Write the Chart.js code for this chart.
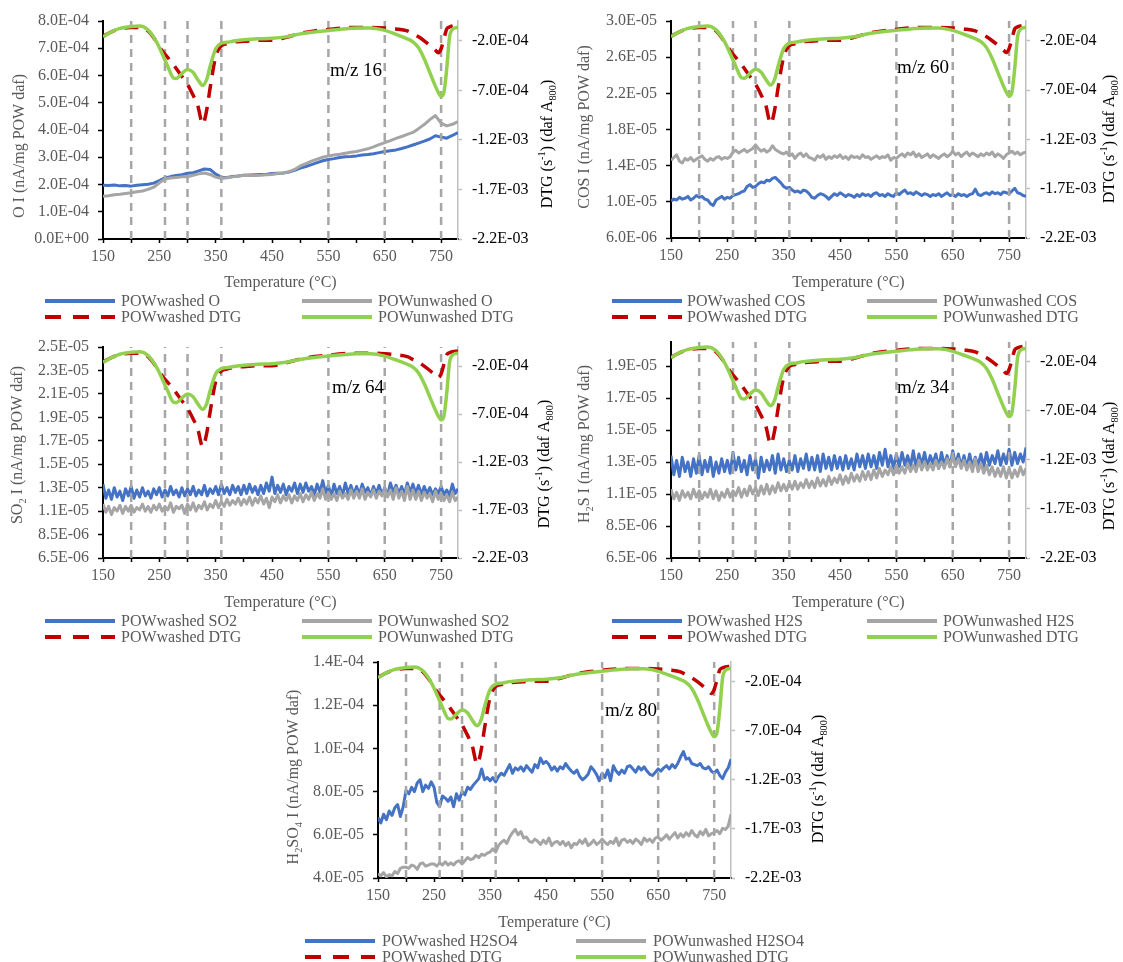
<!DOCTYPE html>
<html>
<head>
<meta charset="utf-8">
<script src="https://cdn.jsdelivr.net/npm/chart.js@4.4.1/dist/chart.umd.min.js"></script>
<style>
html,body{margin:0;padding:0;background:#fff;}
body{width:1123px;height:962px;position:relative;overflow:hidden;font-family:'Liberation Serif','Times New Roman',serif;}
.panel{position:absolute;}
.lg{position:absolute;height:20px;line-height:20px;font-size:16px;color:#595959;white-space:nowrap;}
.lgline{position:absolute;}
</style>
</head>
<body>
<canvas id="c1" class="panel" width="560" height="295" style="left:0;top:0"></canvas>
<canvas id="c2" class="panel" width="563" height="295" style="left:560px;top:0"></canvas>
<canvas id="c3" class="panel" width="560" height="295" style="left:0;top:320px"></canvas>
<canvas id="c4" class="panel" width="563" height="295" style="left:560px;top:320px"></canvas>
<canvas id="c5" class="panel" width="560" height="295" style="left:280px;top:640px"></canvas>
<div id="legends"></div>
<script>
// ---------------- DATA ----------------
// temperature grids (°C)
const temps10 = [150,160,170,180,190,200,210,220,230,240,250,260,270,280,290,300,310,320,330,340,
  350,360,370,380,390,400,410,420,430,440,450,460,470,480,490,500,510,520,530,540,
  550,560,570,580,590,600,610,620,630,640,650,660,670,680,690,700,710,720,730,740,
  750,760,770,780];
const temps5 = [
  150,155,160,165,170,175,180,185,190,195,
  200,205,210,215,220,225,230,235,240,245,
  250,255,260,265,270,275,280,285,290,295,
  300,305,310,315,320,325,330,335,340,345,
  350,355,360,365,370,375,380,385,390,395,
  400,405,410,415,420,425,430,435,440,445,
  450,455,460,465,470,475,480,485,490,495,
  500,505,510,515,520,525,530,535,540,545,
  550,555,560,565,570,575,580,585,590,595,
  600,605,610,615,620,625,630,635,640,645,
  650,655,660,665,670,675,680,685,690,695,
  700,705,710,715,720,725,730,735,740,745,
  750,755,760,765,770,775,780];
const dtgTemps = [150,165,180,200,215,230,245,255,265,275,
  280,290,300,310,318,327,334,340,350,360,
  370,385,400,425,450,475,500,525,550,575,
  600,625,650,670,690,700,710,720,730,740,
  745,750,755,760,765,770,775,780];

// DTG (units of 1E-04 s^-1)
const dtgWashed = [-1.55,-1.1,-0.8,-0.65,-0.65,-1.0,-2.1,-3.0,-3.7,-4.4,
  -4.8,-5.6,-6.4,-7.5,-8.5,-10.4,-9.0,-6.8,-3.6,-2.5,
  -2.3,-2.1,-2.05,-1.95,-1.95,-1.65,-1.25,-1.0,-0.85,-0.7,
  -0.65,-0.65,-0.7,-0.8,-1.0,-1.3,-1.6,-2.0,-2.45,-2.95,
  -3.2,-2.8,-1.8,-0.8,-0.6,-0.5,-0.45,-0.45];
const dtgUnwashed = [-1.6,-1.1,-0.75,-0.55,-0.5,-0.9,-2.1,-3.3,-4.6,-5.75,
  -5.8,-5.3,-4.9,-5.2,-5.9,-6.5,-5.9,-4.6,-2.8,-2.25,
  -2.15,-2.0,-1.9,-1.8,-1.75,-1.6,-1.3,-1.1,-0.95,-0.8,
  -0.7,-0.7,-0.95,-1.35,-1.8,-2.1,-2.7,-3.8,-5.2,-6.6,
  -7.2,-7.6,-7.2,-4.8,-1.6,-0.85,-0.7,-0.65];

// m/z 16 O (units of 1E-04)
const oWashed = [1.97,1.96,1.98,1.95,1.96, 1.94,1.97,1.99,2.01,2.05,
  2.14,2.24,2.29,2.33,2.36, 2.41,2.43,2.50,2.57,2.55,
  2.38,2.27,2.26,2.29,2.31, 2.34,2.35,2.36,2.37,2.38,
  2.40,2.41,2.42,2.46,2.52, 2.60,2.66,2.73,2.80,2.87,
  2.92,2.95,2.99,3.02,3.03, 3.05,3.08,3.10,3.13,3.17,
  3.21,3.24,3.27,3.32,3.38, 3.45,3.52,3.59,3.67,3.79,
  3.74,3.70,3.80,3.91];
const oUnwashed = [1.57,1.59,1.62,1.64,1.67, 1.70,1.73,1.76,1.82,1.90,
  2.06,2.20,2.24,2.26,2.28, 2.28,2.34,2.39,2.42,2.37,
  2.27,2.22,2.25,2.28,2.31, 2.34,2.33,2.33,2.34,2.36,
  2.37,2.40,2.42,2.47,2.55, 2.68,2.77,2.86,2.93,3.00,
  3.05,3.08,3.11,3.15,3.18, 3.21,3.26,3.31,3.38,3.46,
  3.54,3.61,3.69,3.76,3.84, 3.91,4.05,4.20,4.38,4.53,
  4.25,4.15,4.21,4.31];

// m/z 60 COS (units of 1E-06)
const cosWashed = [
  10.1,10.3,10.2,10.5,10.3,10.4,10.6,10.2,10.4,10.7,
  10.5,10.6,10.3,10.2,9.8,9.6,10.2,10.4,10.6,10.3,
  10.5,10.4,10.7,10.8,10.9,11.1,11.2,11.7,11.9,11.6,
  11.7,12.0,12.2,12.1,12.4,12.3,12.6,12.7,12.4,12.1,
  11.7,11.5,11.6,11.3,11.1,11.2,11.0,11.3,11.2,10.9,
  10.5,10.4,10.7,10.9,10.8,10.6,10.3,10.6,10.9,10.7,
  11.0,10.8,10.6,10.8,10.7,10.5,10.8,10.6,10.9,10.7,
  10.8,10.6,10.9,11.0,10.7,10.8,10.6,10.9,10.7,10.6,
  11.0,10.8,11.1,11.3,10.9,11.0,10.8,11.1,10.9,10.7,
  10.9,10.8,10.6,10.8,10.7,10.9,10.6,10.8,11.0,10.7,
  10.8,10.6,10.9,10.7,10.8,10.6,10.8,10.9,11.4,10.8,
  10.7,10.9,11.0,10.8,11.1,10.9,11.0,10.8,11.1,11.0,
  10.9,11.2,11.5,11.0,10.9,10.7,10.6];
const cosUnwashed = [
  14.6,14.9,15.2,14.5,14.3,14.8,14.6,14.9,14.5,14.7,
  14.9,15.1,14.7,14.5,14.8,14.6,14.9,15.0,14.7,14.9,
  14.8,15.0,15.5,15.7,15.4,15.6,15.8,15.5,15.7,15.9,
  16.3,15.9,15.6,15.8,15.5,15.7,16.2,15.8,15.6,15.4,
  15.3,15.5,15.1,15.3,14.8,15.2,15.4,15.0,15.3,14.9,
  14.8,14.6,15.1,14.9,15.2,14.7,15.0,14.8,15.1,14.9,
  15.2,14.8,15.0,14.7,15.1,14.9,15.0,14.8,15.2,14.9,
  15.0,14.7,14.9,15.1,14.8,15.0,14.9,15.2,14.6,14.9,
  14.8,15.1,15.3,15.0,15.4,15.2,15.5,15.0,15.3,14.9,
  15.1,15.3,14.9,15.2,15.0,14.8,15.1,15.3,15.0,15.2,
  15.6,15.2,15.4,15.0,15.3,15.5,15.1,15.4,15.2,15.0,
  15.3,15.1,15.4,15.2,15.5,15.0,15.3,15.1,14.8,15.2,
  15.4,15.6,15.3,15.5,15.2,15.4,15.5];

// m/z 64 SO2 (units of 1E-06)
const so2Washed = [
  12.8,11.6,12.3,11.5,12.5,11.7,12.2,11.4,12.4,11.8,
  12.6,11.6,12.3,11.7,12.5,11.8,12.2,11.6,12.4,11.9,
  12.5,11.7,12.3,11.8,12.6,11.9,12.3,11.7,12.5,11.8,
  12.4,11.9,12.6,11.8,12.3,11.9,12.7,11.8,12.4,12.0,
  12.6,11.9,12.8,12.0,12.5,11.9,12.7,12.1,12.6,11.9,
  12.7,12.0,12.8,12.1,12.6,11.9,12.7,12.0,12.9,12.2,
  13.4,12.0,12.7,12.1,12.8,11.9,12.6,12.2,12.9,12.0,
  12.8,12.1,12.9,12.2,12.6,11.9,12.8,12.1,13.1,12.0,
  12.7,11.7,12.8,12.0,12.6,11.8,12.9,12.0,12.7,11.9,
  12.6,11.9,12.8,12.1,12.5,11.8,12.6,12.0,12.7,11.9,
  12.5,11.8,12.9,12.1,12.7,12.0,12.6,11.9,12.9,12.1,
  12.8,12.0,12.7,11.9,12.6,12.0,12.5,11.9,12.4,12.0,
  12.6,11.9,12.3,11.8,12.8,12.0,12.4];
const so2Unwashed = [
  11.1,10.4,10.9,10.2,10.8,10.5,11.0,10.3,10.9,10.5,
  11.0,10.4,10.8,10.6,11.1,10.5,10.9,10.4,11.0,10.6,
  11.1,10.5,10.9,10.6,11.2,10.4,10.9,10.7,11.0,10.3,
  11.1,10.6,11.2,10.5,11.0,10.7,11.3,10.6,11.1,10.8,
  11.4,10.8,11.3,10.9,11.5,11.0,11.4,11.1,11.6,11.0,
  11.5,11.1,11.7,11.0,11.6,11.2,11.8,11.1,11.6,10.8,
  11.7,11.3,11.9,11.2,11.8,11.4,11.9,11.2,11.8,11.4,
  12.0,11.3,11.9,11.5,12.1,11.4,12.0,11.6,12.4,11.5,
  12.1,11.5,12.0,11.4,12.2,11.6,12.0,11.5,12.3,11.6,
  12.2,11.6,12.4,11.5,12.1,11.7,12.3,11.6,12.2,11.8,
  12.4,11.7,12.3,11.5,12.5,11.6,12.2,11.4,12.6,11.5,
  12.3,11.5,12.2,11.4,12.1,11.6,12.0,11.3,12.2,11.5,
  12.0,11.4,11.9,11.3,12.1,11.4,11.7];

// m/z 34 H2S (units of 1E-06)
const h2sWashed = [
  12.9,11.7,12.6,11.6,12.8,11.9,12.5,11.6,12.7,11.8,
  12.9,11.7,12.6,11.9,12.8,11.6,12.5,11.8,12.7,11.9,
  12.6,11.8,13.1,12.0,12.8,11.9,12.6,11.7,12.9,12.0,
  12.7,11.5,12.8,11.9,12.6,12.0,12.9,11.8,13.0,12.0,
  12.7,11.9,12.6,12.0,12.9,11.9,12.7,12.1,13.0,12.0,
  12.8,12.0,12.9,11.9,13.0,12.1,12.8,12.0,12.9,12.1,
  12.8,12.0,12.9,12.1,12.7,12.0,13.0,12.2,12.9,12.1,
  13.0,12.2,12.9,12.1,13.1,12.3,13.3,12.2,12.9,12.1,
  13.0,12.2,13.1,12.3,12.9,12.2,13.2,12.1,13.0,12.3,
  13.1,12.2,12.9,12.4,13.0,12.1,13.1,12.3,12.9,12.2,
  13.2,12.3,13.0,12.2,12.9,12.1,13.0,12.2,12.8,12.3,
  13.0,12.2,13.1,12.3,12.9,12.4,13.2,12.3,13.0,12.4,
  13.3,12.3,13.1,12.4,13.0,12.5,13.4];
const h2sUnwashed = [
  10.8,10.2,10.6,10.1,10.7,10.3,10.6,10.2,10.8,10.3,
  10.7,10.2,10.6,10.3,10.8,10.2,10.7,10.1,10.6,10.3,
  10.8,10.3,10.7,10.4,10.9,10.3,10.8,10.4,11.0,10.5,
  10.9,10.4,11.0,10.5,11.1,10.5,11.0,10.6,11.2,10.7,
  11.1,10.7,11.2,10.8,11.3,10.8,11.2,10.9,11.4,10.9,
  11.3,10.9,11.5,11.0,11.4,11.0,11.6,11.1,11.5,11.2,
  11.7,11.1,11.6,11.2,11.8,11.3,11.7,11.3,11.9,11.4,
  11.9,11.4,12.0,11.5,12.1,11.6,12.0,11.7,12.2,11.7,
  12.3,11.8,12.2,11.8,12.4,11.9,12.3,11.9,12.6,12.0,
  12.5,12.0,12.4,12.0,12.6,12.1,12.5,12.1,12.7,12.2,
  12.9,12.2,12.7,12.1,12.6,12.0,12.5,11.9,12.7,11.9,
  12.4,11.8,12.3,11.7,12.2,11.6,12.1,11.6,12.2,11.5,
  12.1,11.5,12.0,11.6,12.2,11.7,12.1];

// m/z 80 H2SO4 (units of 1E-06)
const h2so4Washed = [
  68.0,65.5,69.5,67.0,71.0,69.0,72.5,74.0,68.5,73.0,
  80.5,79.0,82.0,80.0,84.0,85.5,80.0,83.0,81.5,84.5,
  82.0,75.0,73.0,78.0,77.0,75.5,77.5,73.0,79.0,76.0,
  80.0,78.5,82.0,81.0,83.0,84.5,86.0,90.5,85.5,86.5,
  85.0,86.5,84.5,87.0,88.5,87.5,90.0,92.5,88.5,91.0,
  90.0,91.5,89.5,92.0,90.5,89.0,92.5,91.0,95.5,93.0,
  94.0,92.5,90.0,91.5,89.5,91.5,90.5,93.0,91.0,89.5,
  88.5,90.0,87.0,85.5,86.5,88.0,91.5,90.0,88.0,85.0,
  88.5,86.5,90.0,85.0,92.0,89.5,88.0,90.0,88.5,91.5,
  92.0,90.5,89.0,91.5,90.0,91.5,89.5,88.0,87.5,89.0,
  90.5,89.5,91.0,92.0,90.5,92.5,91.0,93.0,96.0,98.5,
  95.0,95.5,93.0,92.5,92.0,93.0,91.0,90.5,91.5,89.5,
  88.5,90.0,87.5,86.0,89.0,91.0,95.0];
const h2so4Unwashed = [
  42.0,41.0,42.5,40.5,41.5,41.0,43.0,42.0,44.5,45.0,
  45.0,44.5,46.0,45.5,44.0,46.5,47.0,45.5,46.0,46.5,
  46.5,45.5,47.0,46.0,47.5,46.0,47.0,46.0,47.5,48.0,
  46.5,48.0,49.5,48.5,49.0,50.5,49.5,51.0,50.5,51.5,
  52.0,53.5,52.0,55.0,56.5,57.5,56.0,59.0,61.0,62.5,
  60.0,61.5,58.5,59.0,57.0,56.5,58.0,57.0,55.5,57.5,
  56.0,58.5,55.0,56.5,57.0,55.5,57.0,55.0,56.5,54.0,
  56.0,55.5,57.5,56.0,58.0,55.0,56.0,57.5,55.5,56.5,
  58.0,56.5,55.5,57.0,56.0,58.5,55.0,57.5,58.0,56.5,
  57.5,56.0,58.0,57.0,55.5,58.5,57.0,58.0,56.5,58.5,
  59.0,57.5,58.5,60.0,58.0,59.5,61.0,58.5,60.5,59.0,
  61.0,59.5,62.0,60.0,59.0,61.5,60.0,62.5,59.5,60.5,
  61.0,62.0,60.5,63.0,62.5,64.0,69.5];

// vertical reference temperatures (°C)
const markerTemps = [200,260,300,360,550,650,750];

// tick values and labels
const xTicks = [150,200,250,300,350,400,450,500,550,600,650,700,750];
const xTickLabels = ['150','','250','','350','','450','','550','','650','','750'];
const dtgTicks = [-22,-17,-12,-7,-2];
const dtgTickLabels = ['-2.2E-03','-1.7E-03','-1.2E-03','-7.0E-04','-2.0E-04'];
const oTicks = [0,1,2,3,4,5,6,7,8];
const oTickLabels = ['0.0E+00','1.0E-04','2.0E-04','3.0E-04','4.0E-04','5.0E-04','6.0E-04','7.0E-04','8.0E-04'];
const cosTicks = [6,10,14,18,22,26,30];
const cosTickLabels = ['6.0E-06','1.0E-05','1.4E-05','1.8E-05','2.2E-05','2.6E-05','3.0E-05'];
const so2Ticks = [6.5,8.5,10.5,12.5,14.5,16.5,18.5,20.5,22.5,24.5];
const so2TickLabels = ['6.5E-06','8.5E-06','1.1E-05','1.3E-05','1.5E-05','1.7E-05','1.9E-05','2.1E-05','2.3E-05','2.5E-05'];
const h2sTicks = [6.5,8.5,10.5,12.5,14.5,16.5,18.5];
const h2sTickLabels = ['6.5E-06','8.5E-06','1.1E-05','1.3E-05','1.5E-05','1.7E-05','1.9E-05'];
const h2so4Ticks = [40,60,80,100,120,140];
const h2so4TickLabels = ['4.0E-05','6.0E-05','8.0E-05','1.0E-04','1.2E-04','1.4E-04'];

// ---------------- RENDERING ----------------
const FAM = "'Liberation Serif','Times New Roman',serif";
Chart.defaults.font.family = FAM;
Chart.defaults.font.size = 16;

const COLORS = {washed:'#4472c4', unwashed:'#a5a5a5', dtgW:'#c00000', dtgU:'#92d050', marker:'#a6a6a6'};

function drawRich(ctx, segs, cx, cy, rot, size, color) {
  const fontFor = m => (m ? size * 0.65 : size) + 'px ' + FAM;
  let total = 0;
  segs.forEach(s => { ctx.font = fontFor(s[1]); total += ctx.measureText(s[0]).width; });
  ctx.save();
  ctx.translate(cx, cy);
  ctx.rotate(rot);
  ctx.fillStyle = color;
  ctx.textBaseline = 'middle';
  ctx.textAlign = 'left';
  let x = -total / 2;
  segs.forEach(s => {
    ctx.font = fontFor(s[1]);
    const dy = s[1] === 'sub' ? size * 0.3 : (s[1] === 'sup' ? -size * 0.33 : 0);
    ctx.fillText(s[0], x, dy);
    x += ctx.measureText(s[0]).width;
  });
  ctx.restore();
}

const panelText = {
  id: 'panelText',
  afterDraw(chart, args, o) {
    const ctx = chart.ctx, a = chart.chartArea;
    drawRich(ctx, o.leftTitle, o.leftPos[0], o.leftPos[1], -Math.PI / 2, 16, '#595959');
    drawRich(ctx, o.rightTitle, o.rightPos[0], o.rightPos[1], -Math.PI / 2, 16, '#000');
    drawRich(ctx, [['Temperature (°C)']], (a.left + a.right) / 2, o.xTitleY, 0, 16, '#595959');
    drawRich(ctx, [[o.mz]], o.mzPos[0], o.mzPos[1], 0, 19, '#000');
  }
};

const dtgTitle = [['DTG (s'], ['-1', 'sup'], [') (daf A'], ['800', 'sub'], [')']];

function pts(xs, ys) { return xs.map((x, i) => ({x: x, y: ys[i]})); }
function markerPts(min, max) {
  const out = [];
  markerTemps.forEach(t => { out.push({x: t, y: min}, {x: t, y: max}, {x: t, y: null}); });
  return out;
}

function makePanel(p) {
  const W = p.W, H = p.H, A = p.area;
  const datasets = [
    {data: pts(dtgTemps, dtgUnwashed), yAxisID: 'y2', borderColor: COLORS.dtgU, borderWidth: 3.5, cubicInterpolationMode: 'monotone'},
    {data: pts(dtgTemps, dtgWashed), yAxisID: 'y2', borderColor: COLORS.dtgW, borderWidth: 3.5, borderDash: [14, 9], cubicInterpolationMode: 'monotone'},
    {data: markerPts(p.yMin, p.yMax), yAxisID: 'y', borderColor: COLORS.marker, borderWidth: 2.5, borderDash: [8, 6], spanGaps: false},
    {data: pts(p.temps, p.unwashed), yAxisID: 'y', borderColor: COLORS.unwashed, borderWidth: 3},
    {data: pts(p.temps, p.washed), yAxisID: 'y', borderColor: COLORS.washed, borderWidth: 3}
  ];
  datasets.forEach(d => { d.pointRadius = 0; d.fill = false; d.borderJoinStyle = 'round'; });
  return new Chart(document.getElementById(p.id), {
    type: 'line',
    data: {datasets: datasets},
    options: {
      responsive: false, animation: false, devicePixelRatio: 1,
      layout: {padding: {top: A.top, left: 0, right: 0, bottom: 0}},
      plugins: {
        legend: {display: false}, tooltip: {enabled: false},
        panelText: {leftTitle: p.leftTitle, leftPos: p.leftPos, rightTitle: dtgTitle, rightPos: p.rightPos,
                    xTitleY: 283, mz: p.mz, mzPos: p.mzPos}
      },
      scales: {
        x: {
          type: 'linear', min: 150, max: 780,
          afterFit: s => { s.height = H - A.bottom; },
          afterBuildTicks: s => { s.ticks = xTicks.map(v => ({value: v})); },
          border: {display: true, color: '#000', width: 2},
          grid: {display: true, drawOnChartArea: false, drawTicks: true, tickLength: 4, tickColor: '#000', tickWidth: 1.5},
          ticks: {color: '#595959', font: {size: 16}, padding: 4, autoSkip: false, maxRotation: 0,
                  callback: (v, i) => xTickLabels[i]}
        },
        y: {
          type: 'linear', position: 'left', min: p.yMin, max: p.yMax,
          afterFit: s => { s.width = A.left; },
          afterBuildTicks: s => { s.ticks = p.yTicks.map(v => ({value: v})); },
          border: {display: true, color: '#000', width: 2},
          grid: {display: true, drawOnChartArea: false, drawTicks: true, tickLength: 5, tickColor: '#000', tickWidth: 1.5},
          ticks: {color: '#595959', font: {size: 16}, padding: 9, autoSkip: false,
                  callback: (v, i) => p.yTickLabels[i]}
        },
        y2: {
          type: 'linear', position: 'right', min: -22, max: 0,
          afterFit: s => { s.width = W - A.right; },
          afterBuildTicks: s => { s.ticks = dtgTicks.map(v => ({value: v})); },
          border: {display: true, color: '#bfbfbf', width: 1.5},
          grid: {display: true, drawOnChartArea: false, drawTicks: true, tickLength: 4, tickColor: '#bfbfbf', tickWidth: 1.5},
          ticks: {color: '#000', font: {size: 16}, padding: 10, autoSkip: false,
                  callback: (v, i) => dtgTickLabels[i]}
        }
      }
    },
    plugins: [panelText]
  });
}

const panels = [
  {id: 'c1', W: 560, H: 295, area: {left: 103, right: 458, top: 21, bottom: 239},
   temps: temps10, washed: oWashed, unwashed: oUnwashed, yMin: 0, yMax: 8, yTicks: oTicks, yTickLabels: oTickLabels,
   leftTitle: [['O I (nA/mg POW daf)']], leftPos: [20, 146], rightPos: [548, 144], mz: 'm/z 16', mzPos: [356, 71],
   legend: {names: ['POWwashed O', 'POWunwashed O'], rows: [301, 317], cols: [[45, 121], [302, 378]]}},
  {id: 'c2', W: 563, H: 295, area: {left: 111, right: 466, top: 21, bottom: 238},
   temps: temps5, washed: cosWashed, unwashed: cosUnwashed, yMin: 6, yMax: 30, yTicks: cosTicks, yTickLabels: cosTickLabels,
   leftTitle: [['COS I (nA/mg POW daf)']], leftPos: [25, 127], rightPos: [550, 139], mz: 'm/z 60', mzPos: [363, 68],
   legend: {names: ['POWwashed COS', 'POWunwashed COS'], rows: [301, 317], cols: [[612, 687], [867, 943]]}},
  {id: 'c3', W: 560, H: 295, area: {left: 103, right: 458, top: 27, bottom: 238},
   temps: temps5, washed: so2Washed, unwashed: so2Unwashed, yMin: 6.5, yMax: 24.5, yTicks: so2Ticks, yTickLabels: so2TickLabels,
   leftTitle: [['SO'], ['2', 'sub'], [' I (nA/mg POW daf)']], leftPos: [18, 125], rightPos: [545, 144], mz: 'm/z 64', mzPos: [358, 68],
   legend: {names: ['POWwashed SO2', 'POWunwashed SO2'], rows: [621, 637], cols: [[45, 121], [302, 378]]}},
  {id: 'c4', W: 563, H: 295, area: {left: 111, right: 466, top: 22, bottom: 238},
   temps: temps5, washed: h2sWashed, unwashed: h2sUnwashed, yMin: 6.5, yMax: 20, yTicks: h2sTicks, yTickLabels: h2sTickLabels,
   leftTitle: [['H'], ['2', 'sub'], ['S I (nA/mg POW daf)']], leftPos: [25, 124], rightPos: [550, 146], mz: 'm/z 34', mzPos: [363, 68],
   legend: {names: ['POWwashed H2S', 'POWunwashed H2S'], rows: [621, 637], cols: [[612, 687], [867, 943]]}},
  {id: 'c5', W: 560, H: 295, area: {left: 98, right: 451, top: 22, bottom: 238},
   temps: temps5, washed: h2so4Washed, unwashed: h2so4Unwashed, yMin: 40, yMax: 140, yTicks: h2so4Ticks, yTickLabels: h2so4TickLabels,
   leftTitle: [['H'], ['2', 'sub'], ['SO'], ['4', 'sub'], [' I (nA/mg POW daf)']], leftPos: [14, 137], rightPos: [539, 139], mz: 'm/z 80', mzPos: [351, 71],
   legend: {names: ['POWwashed H2SO4', 'POWunwashed H2SO4'], rows: [941, 957], cols: [[305, 382], [576, 653]]}}
];

panels.forEach(makePanel);

// HTML legends
const lgRoot = document.getElementById('legends');
const SVGNS = 'http://www.w3.org/2000/svg';
function addLegendItem(x, textX, y, text, color, dash) {
  const svg = document.createElementNS(SVGNS, 'svg');
  svg.setAttribute('width', '72'); svg.setAttribute('height', '8');
  svg.setAttribute('class', 'lgline');
  svg.style.left = (x - 1) + 'px'; svg.style.top = (y - 4) + 'px';
  const ln = document.createElementNS(SVGNS, 'line');
  ln.setAttribute('x1', '1'); ln.setAttribute('x2', '71'); ln.setAttribute('y1', '4'); ln.setAttribute('y2', '4');
  ln.setAttribute('stroke', color); ln.setAttribute('stroke-width', '4');
  if (dash) ln.setAttribute('stroke-dasharray', '16 12');
  svg.appendChild(ln);
  lgRoot.appendChild(svg);
  const d = document.createElement('div');
  d.className = 'lg'; d.textContent = text;
  d.style.left = textX + 'px'; d.style.top = (y - 10) + 'px';
  lgRoot.appendChild(d);
}
panels.forEach(p => {
  const L = p.legend;
  addLegendItem(L.cols[0][0], L.cols[0][1], L.rows[0], L.names[0], COLORS.washed, false);
  addLegendItem(L.cols[1][0], L.cols[1][1], L.rows[0], L.names[1], COLORS.unwashed, false);
  addLegendItem(L.cols[0][0], L.cols[0][1], L.rows[1], 'POWwashed DTG', COLORS.dtgW, true);
  addLegendItem(L.cols[1][0], L.cols[1][1], L.rows[1], 'POWunwashed DTG', COLORS.dtgU, false);
});
</script>
</body>
</html>
